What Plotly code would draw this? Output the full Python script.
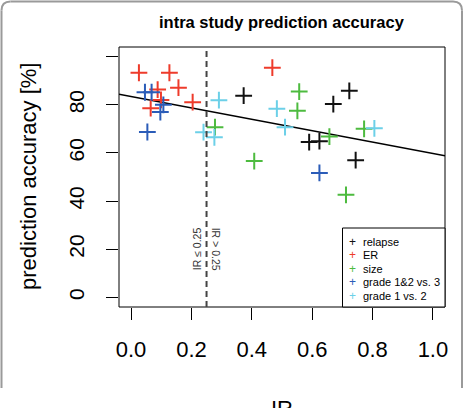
import plotly.graph_objects as go

# ---- data ----
series_names = ["relapse", "ER", "size", "grade 1&2 vs. 3", "grade 1 vs. 2"]
series_colors = ["#111111", "#EE3B2B", "#4DBB3F", "#2B5CB8", "#6CD0E8"]

relapse_x = [0.373, 0.590, 0.624, 0.670, 0.723, 0.744]
relapse_y = [83.8, 64.5, 64.9, 80.3, 85.8, 57.0]
er_x = [0.026, 0.127, 0.157, 0.088, 0.099, 0.065, 0.204, 0.468]
er_y = [93.3, 93.3, 87.1, 86.3, 82.0, 78.6, 81.1, 95.4]
size_x = [0.278, 0.408, 0.557, 0.551, 0.657, 0.772, 0.712]
size_y = [70.7, 56.6, 85.5, 77.5, 66.8, 70.0, 42.6]
grade12_x = [0.046, 0.068, 0.107, 0.097, 0.054, 0.624]
grade12_y = [85.2, 85.2, 80.0, 77.0, 68.7, 51.7]
grade1_x = [0.291, 0.240, 0.276, 0.483, 0.510, 0.806]
grade1_y = [81.9, 68.6, 66.5, 78.4, 70.7, 70.2]

fit_intercept = 83.45
fit_slope = -23.7
ir_threshold = 0.25

x_ticks = [0.0, 0.2, 0.4, 0.6, 0.8, 1.0]
y_ticks = [0, 20, 40, 60, 80, 100]
y_ticklabels = ["0", "20", "40", "60", "80", ""]

x_range = [-0.04, 1.04]
y_range = [-4, 104]

FONT = "Liberation Sans, Arial, Helvetica, sans-serif"

W, H = 467, 408
L, R, T, B = 119, 22, 47, 101
PW, PH = W - L - R, H - T - B


def px_x(p):
    return (p - L) / PW


def px_y(p):
    return (H - B - p) / PH


fig = go.Figure()

xs = [relapse_x, er_x, size_x, grade12_x, grade1_x]
ys = [relapse_y, er_y, size_y, grade12_y, grade1_y]

# regression line
fig.add_trace(go.Scatter(
    x=x_range, y=[fit_intercept + fit_slope * v for v in x_range],
    mode="lines", line=dict(color="black", width=1.5), showlegend=False,
    hoverinfo="skip"))

for name, col, x, y in zip(series_names, series_colors, xs, ys):
    fig.add_trace(go.Scatter(
        x=x, y=y, mode="markers", name=name, showlegend=False,
        marker=dict(symbol="cross-thin", size=12,
                    line=dict(color=col, width=2), color=col)))

shapes = []
# plot box
shapes.append(dict(type="rect", xref="paper", yref="paper", x0=0, x1=1, y0=0, y1=1,
                   line=dict(color="black", width=1)))
# threshold dashed line
shapes.append(dict(type="line", xref="x", yref="paper", x0=ir_threshold, x1=ir_threshold,
                   y0=0, y1=1, line=dict(color="#444444", width=2, dash="6px,4px")))

# legend box
lx0, lx1 = px_x(342.5), 1.0
ly0, ly1 = 0.0, px_y(228)
shapes.append(dict(type="rect", xref="paper", yref="paper", x0=lx0, x1=lx1, y0=ly0, y1=ly1,
                   line=dict(color="black", width=1), fillcolor="white", layer="above"))

# outer frame: straight edges + rounded top corners (kept well inside the page)
frame_col = "#9a9a9a"
fx0, fx1 = px_x(1.5), px_x(462)
fyb, fyt = px_y(388), px_y(1.5)
rx, ry = 9 / PW, 9 / PH
for (a, b, c, d) in [(fx0, fyb, fx0, fyt - ry), (fx0 + rx, fyt, fx1 - rx, fyt),
                     (fx1, fyt - ry, fx1, fyb)]:
    shapes.append(dict(type="line", xref="paper", yref="paper", x0=a, y0=b, x1=c, y1=d,
                       line=dict(color=frame_col, width=2)))
for (sx, sy, cx, cy, ex, ey) in [(fx0, fyt - ry, fx0, fyt, fx0 + rx, fyt),
                                 (fx1 - rx, fyt, fx1, fyt, fx1, fyt - ry)]:
    shapes.append(dict(type="path", xref="paper", yref="paper",
                       path=f"M {sx:.5f},{sy:.5f} Q {cx:.5f},{cy:.5f} {ex:.5f},{ey:.5f}",
                       line=dict(color=frame_col, width=2)))

annotations = []
# title
annotations.append(dict(text="intra study prediction accuracy", x=0.5, y=px_y(22),
                        xref="paper", yref="paper", showarrow=False,
                        font=dict(family=FONT, size=16.5, color="black", weight="bold"),
                        xanchor="center", yanchor="middle"))
# axis titles
annotations.append(dict(text="IR", x=0.5, y=px_y(398), xref="paper", yref="paper",
                        showarrow=False, font=dict(family=FONT, size=22, color="black"),
                        xanchor="center", yanchor="top", yshift=4))
annotations.append(dict(text="prediction accuracy [%]", x=px_x(28), y=px_y(177),
                        xref="paper", yref="paper", showarrow=False, textangle=-90,
                        font=dict(family=FONT, size=22, color="black"),
                        xanchor="center", yanchor="middle"))
# threshold labels
annotations.append(dict(text="IR ≤ 0.25", x=ir_threshold, y=20, xref="x", yref="y",
                        showarrow=False, textangle=-90, xshift=-9.5,
                        font=dict(family=FONT, size=10.5, color="#333333"),
                        xanchor="center", yanchor="middle"))
annotations.append(dict(text="IR > 0.25", x=ir_threshold, y=20, xref="x", yref="y",
                        showarrow=False, textangle=90, xshift=9,
                        font=dict(family=FONT, size=10.5, color="#333333"),
                        xanchor="center", yanchor="middle"))
# manual legend
row_px = [241.5, 255, 268.5, 282, 295.5]
for name, col, ry_ in zip(series_names, series_colors, row_px):
    annotations.append(dict(text="+", x=px_x(352.5), y=px_y(ry_), xref="paper", yref="paper",
                            showarrow=False, font=dict(family=FONT, size=12, color=col),
                            xanchor="center", yanchor="middle"))
    annotations.append(dict(text=name, x=px_x(361), y=px_y(ry_), xref="paper", yref="paper",
                            showarrow=False, font=dict(family=FONT, size=11, color="black"),
                            xanchor="left", yanchor="middle"))

fig.update_layout(
    width=W, height=H,
    margin=dict(l=L, r=R, t=T, b=B, pad=0),
    paper_bgcolor="white", plot_bgcolor="white",
    font=dict(family=FONT, color="black"),
    showlegend=False,
    shapes=shapes, annotations=annotations,
    xaxis=dict(range=x_range, tickvals=x_ticks, ticktext=[f"{v:.1f}" for v in x_ticks],
               ticks="outside", ticklen=12, tickwidth=1, tickcolor="black",
               tickfont=dict(family=FONT, size=22, color="black"),
               ticklabelstandoff=11,
               showgrid=False, zeroline=False, showline=False),
    yaxis=dict(range=y_range, tickvals=y_ticks, ticktext=y_ticklabels,
               ticks="outside", ticklen=12, tickwidth=1, tickcolor="black",
               tickangle=-90, tickfont=dict(family=FONT, size=21, color="black"),
               ticklabelstandoff=14,
               showgrid=False, zeroline=False, showline=False),
)

fig.write_html(
    "out.html",
    config={"displayModeBar": False},
    post_script="document.documentElement.style.overflow='hidden';"
                "document.body.style.overflow='hidden';document.body.style.margin='0';",
)
